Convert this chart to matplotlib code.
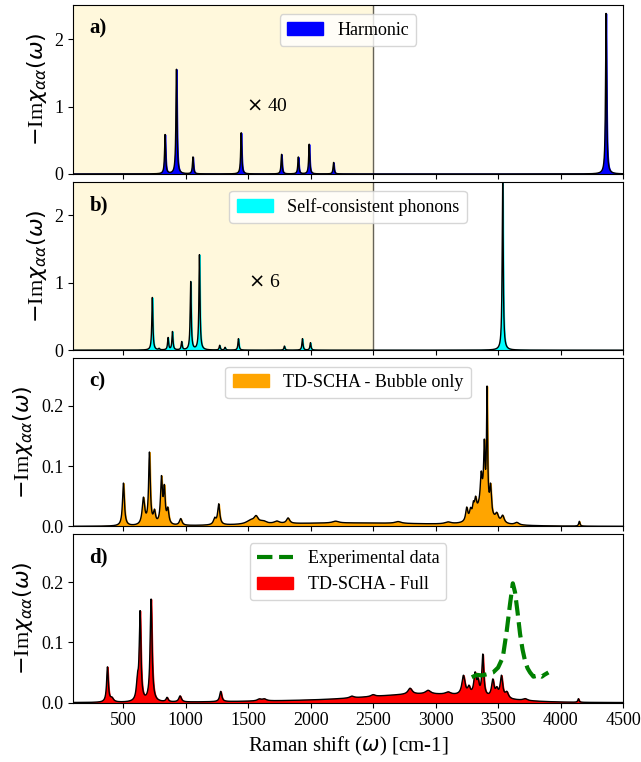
import numpy as np
import matplotlib
matplotlib.use("Agg")
import matplotlib.pyplot as plt
from matplotlib.patches import Patch
from matplotlib.lines import Line2D

plt.rcParams['font.family'] = ['Liberation Serif', 'DejaVu Serif']
plt.rcParams['mathtext.fontset'] = 'dejavusans'

# ---------------- data (peak positions [cm-1], heights, half-widths) -------------
# a) Harmonic
harm_pos = [836, 927, 1059, 1445, 1768, 1902, 1989, 2184, 4364]
harm_h   = [0.58, 1.55, 0.25, 0.61, 0.29, 0.25, 0.44, 0.17, 2.38]
harm_w   = [5, 5, 5, 5, 5, 5, 5, 5, 5]

# b) Self-consistent phonons
scp_pos = [734, 788, 860, 895, 969, 1041, 1111, 1273, 1316, 1423, 1791, 1935, 1999, 3537]
scp_h   = [0.78, 0.02, 0.18, 0.27, 0.12, 1.01, 1.41, 0.07, 0.04, 0.17, 0.06, 0.17, 0.11, 2.48]
scp_w   = [5, 5, 5, 5, 5, 5, 5, 5, 5, 5, 5, 5, 5, 5]

# c) TD-SCHA bubble only
bub_pos = [503, 663, 711, 751, 807, 830, 858, 961, 1233, 1265, 1520, 1564, 1620,
           1730, 1820, 2200, 2700, 3100, 3249, 3280, 3302, 3320, 3365, 3380, 3390,
           3412, 3440, 3490, 3537, 3650, 4150]
bub_h   = [0.071, 0.044, 0.118, 0.020, 0.075, 0.055, 0.024, 0.011, 0.010, 0.034,
           0.006, 0.011, 0.004, 0.004, 0.009, 0.003, 0.003, 0.003, 0.022, 0.015,
           0.018, 0.025, 0.040, 0.045, 0.085, 0.190, 0.045, 0.012, 0.012, 0.004,
           0.008]
bub_w   = [9, 12, 8, 10, 9, 8, 10, 12, 12, 10, 40, 20, 30, 25, 15, 30, 30, 30, 10,
           10, 8, 10, 8, 45, 6, 5, 8, 14, 14, 20, 6]
bub_bg_center, bub_bg_height, bub_bg_sigma = 2300, 0.0055, 700

# d) TD-SCHA full
full_pos = [375, 410, 615, 636, 724, 852, 956, 1281, 1590, 1630, 2330, 2500,
            2796, 2940, 3100, 3223, 3267, 3316, 3340, 3378, 3458, 3490, 3527,
            3570, 3716, 4143]
full_h   = [0.058, 0.006, 0.030, 0.145, 0.170, 0.007, 0.010, 0.017, 0.003, 0.003,
            0.003, 0.003, 0.010, 0.006, 0.004, 0.032, 0.012, 0.035, 0.020, 0.068,
            0.028, 0.012, 0.036, 0.010, 0.003, 0.006]
full_w   = [8, 15, 10, 8, 9, 10, 12, 10, 20, 20, 20, 20, 20, 25, 25, 15, 12, 12,
            10, 9, 12, 12, 12, 15, 20, 6]
full_bg_center, full_bg_height, full_bg_sigma = 2950, 0.013, 450
full_bg2_height = 0.003

# Experimental data
exp_x = [3290, 3330, 3370, 3410, 3460, 3500, 3538, 3570, 3596, 3618, 3636, 3656,
         3676, 3696, 3716, 3736, 3756, 3783, 3803, 3823, 3850, 3870, 3903]
exp_y = [0.042, 0.046, 0.045, 0.047, 0.050, 0.058, 0.075, 0.120, 0.164, 0.198,
         0.183, 0.150, 0.114, 0.088, 0.069, 0.057, 0.050, 0.043, 0.044, 0.046,
         0.043, 0.046, 0.050]

# ---------------------------------------------------------------------------------
x = np.arange(100, 4500.5, 0.5)

def spectrum(pos, h, w):
    y = np.zeros_like(x)
    for p, a, g in zip(pos, h, w):
        y += a * g**2 / ((x - p)**2 + g**2)
    return y

y_a = spectrum(harm_pos, harm_h, harm_w)
y_b = spectrum(scp_pos, scp_h, scp_w)
y_c = spectrum(bub_pos, bub_h, bub_w) + bub_bg_height * np.exp(-(x - bub_bg_center)**2 / (2 * bub_bg_sigma**2))
y_d = (spectrum(full_pos, full_h, full_w)
       + full_bg_height * np.exp(-(x - full_bg_center)**2 / (2 * full_bg_sigma**2))
       + full_bg2_height * np.exp(-(x - 2000)**2 / (2 * 600**2)))

fig, axes = plt.subplots(4, 1, figsize=(6.41, 7.62), dpi=100, sharex=True)
fig.subplots_adjust(left=0.114, right=0.972, top=0.993, bottom=0.078, hspace=0.045)

data = [(y_a, 'blue', 'Harmonic', 2.5, 'a)'),
        (y_b, 'cyan', 'Self-consistent phonons', 2.5, 'b)'),
        (y_c, 'orange', 'TD-SCHA - Bubble only', 0.28, 'c)'),
        (y_d, 'red', 'TD-SCHA - Full', 0.28, 'd)')]

for i, (ax, (y, col, lab, ymax, tag)) in enumerate(zip(axes, data)):
    if i < 2:
        ax.axvspan(100, 2500, color='cornsilk', zorder=0)
        ax.axvline(2500, color='k', lw=1, alpha=0.6, zorder=1)
    ax.fill_between(x, y, 0, color=col, zorder=2)
    ax.plot(x, y, color='k', lw=1, zorder=3)
    ax.set_xlim(100, 4500)
    ax.set_ylim(0, ymax)
    ax.set_ylabel(r'$-$Im$\chi_{\alpha\alpha}(\omega)$', fontsize=16)
    ax.tick_params(labelsize=13)
    ax.text(0.03, 0.86, tag, transform=ax.transAxes, fontsize=15,
            fontweight='bold', va='center', ha='left')
    if i == 3:
        handles = [Line2D([0], [0], color='green', ls='--', lw=3),
                   Patch(color=col)]
        labels = ['Experimental data', lab]
        ax.plot(exp_x, exp_y, color='green', ls='--', lw=3, zorder=4)
    else:
        handles = [Patch(color=col)]
        labels = [lab]
    ax.legend(handles, labels, loc='upper center', fontsize=13)

axes[0].set_yticks([0, 1, 2])
axes[1].set_yticks([0, 1, 2])
axes[2].set_yticks([0.0, 0.1, 0.2])
axes[3].set_yticks([0.0, 0.1, 0.2])
axes[0].text(1480, 1.0, r'$\times$ 40', fontsize=14, va='center', ha='left')
axes[1].text(1500, 1.0, r'$\times$ 6', fontsize=14, va='center', ha='left')
axes[3].set_xlabel(r'Raman shift ($\omega$) [cm-1]', fontsize=15)

fig.savefig('out.png', dpi=100)
